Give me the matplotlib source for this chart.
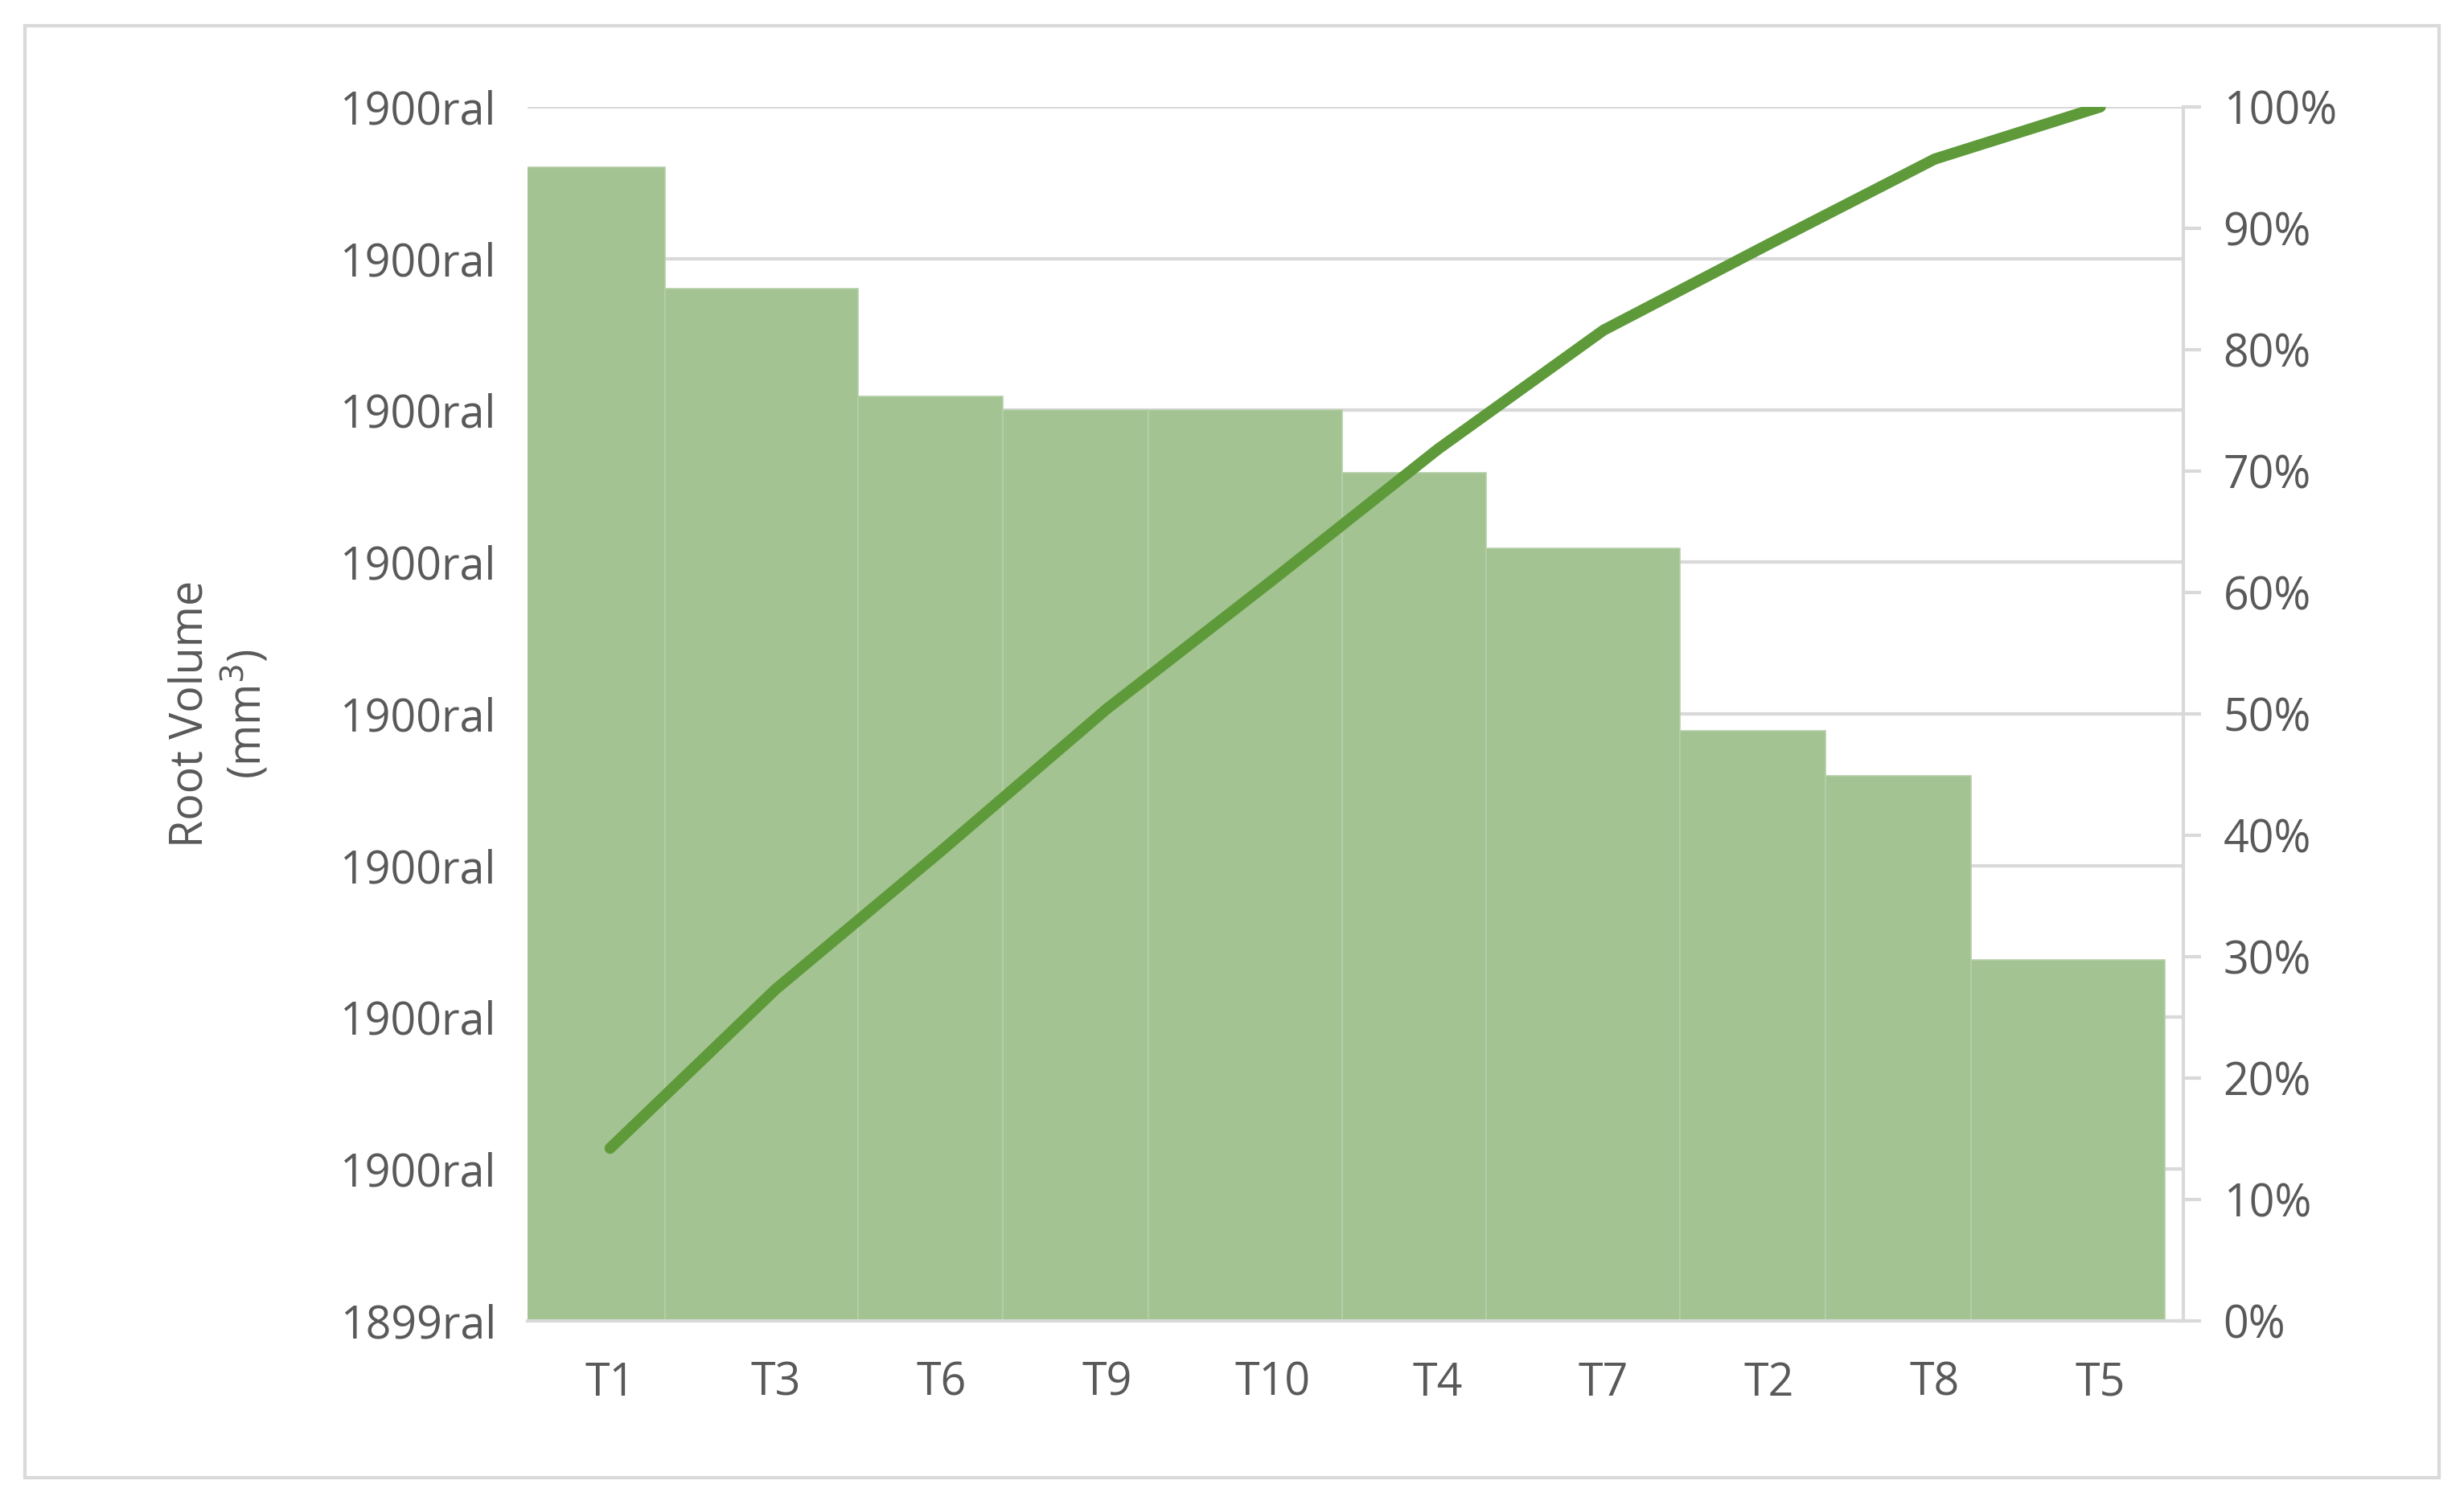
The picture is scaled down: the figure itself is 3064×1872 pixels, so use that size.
import matplotlib.pyplot as plt
from matplotlib.patches import Rectangle

# -------------------------------------------------
# Data
# -------------------------------------------------
categories = ["T1", "T3", "T6", "T9", "T10", "T4", "T7", "T2", "T8", "T5"]
root_volume = [7.60, 6.80, 6.09, 6.00, 6.00, 5.59, 5.09, 3.89, 3.59, 2.38]
cumulative_pct = [14.2, 27.3, 38.7, 50.4, 61.0, 71.8, 81.6, 88.7, 95.7, 100.0]
# bar edges as Excel drew them (uneven widths)
bar_edges = [-0.55, 0.33, 1.50, 2.37, 3.25, 4.42, 5.29, 6.46, 7.34, 8.22, 9.39]
left_ticklabels = ["1899ral"] + ["1900ral"] * 8
right_ticklabels = [f"{v}%" for v in range(0, 101, 10)]

BAR_COLOR = "#A3C492"
LINE_COLOR = "#5E9A3A"
TEXT_COLOR = "#595959"
GRID_COLOR = "#D9D9D9"

plt.rcParams["font.family"] = ["Open Sans", "DejaVu Sans"]

fig = plt.figure(figsize=(15.32, 9.36), dpi=200)
fig.patches.append(Rectangle((0.01, 0.018), 0.98, 0.965, transform=fig.transFigure,
                             fill=False, edgecolor=GRID_COLOR, linewidth=1.5))

ax = fig.add_axes([0.214, 0.1225, 0.672, 0.8065])
for i, h in enumerate(root_volume):
    ax.bar(bar_edges[i], h, width=bar_edges[i + 1] - bar_edges[i], align="edge",
           color=BAR_COLOR, edgecolor="#B5D0A8", linewidth=0.6, zorder=2)

ax.set_xlim(-0.5, 9.5)
ax.set_ylim(0, 8)
ax.set_yticks(range(9))
ax.set_yticklabels(left_ticklabels)
ax.set_xticks(range(len(categories)))
ax.set_xticklabels(categories)
ax.yaxis.grid(True, color=GRID_COLOR, linewidth=1.5, zorder=0)
ax.set_axisbelow(True)
ax.tick_params(axis="both", labelsize=20, colors=TEXT_COLOR, length=0, pad=14)
ax.tick_params(axis="x", pad=18)
for s in ["top", "right", "left"]:
    ax.spines[s].set_visible(False)
ax.spines["bottom"].set_color(GRID_COLOR)
ax.spines["bottom"].set_linewidth(1.5)
ax.set_ylabel("Root Volume\n(mm$^3$)", fontsize=20, color=TEXT_COLOR, labelpad=30)

ax2 = ax.twinx()
ax2.plot(range(len(categories)), cumulative_pct, color=LINE_COLOR, linewidth=5,
         solid_capstyle="round", zorder=3)
ax2.set_ylim(0, 100)
ax2.set_yticks(range(0, 101, 10))
ax2.set_yticklabels(right_ticklabels)
ax2.tick_params(axis="y", labelsize=20, colors=TEXT_COLOR, length=8, width=1.5,
                color=GRID_COLOR, pad=10)
for s in ["top", "bottom", "left"]:
    ax2.spines[s].set_visible(False)
ax2.spines["right"].set_color(GRID_COLOR)
ax2.spines["right"].set_linewidth(1.5)

fig.savefig("out.png", dpi=200)
